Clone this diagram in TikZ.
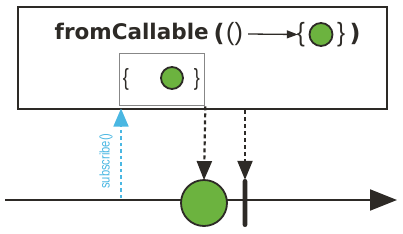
\documentclass[tikz,border=0pt]{standalone}
\usepackage{fontspec}
\usepackage{graphicx}
\setmainfont{DejaVu Sans}
\newfontfamily\labelfont{Liberation Sans}
\usetikzlibrary{arrows.meta}
\definecolor{dark}{RGB}{45,42,38}
\definecolor{mgreen}{RGB}{108,179,63}
\definecolor{mcyan}{RGB}{74,183,226}
\definecolor{boxgray}{RGB}{135,135,135}
\tikzset{
  titlebold/.style={inner sep=0pt, text=dark, font=\fontsize{21.5}{24}\selectfont\bfseries},
  parenbold/.style={inner sep=0pt, text=dark, font=\fontsize{24}{28}\selectfont\bfseries},
  parenreg/.style={inner sep=0pt, text=dark, font=\labelfont\fontsize{25}{28}\selectfont},
  bracebig/.style={inner sep=0pt, text=dark, font=\labelfont\fontsize{24}{28}\selectfont},
  bracereg/.style={inner sep=0pt, text=dark, font=\labelfont\fontsize{18}{21}\selectfont},
  ball/.style={circle, draw=dark, fill=mgreen, line width=1.8pt, inner sep=0pt},
  dasharrow/.style={draw=dark, line width=2.2pt, dash pattern=on 4pt off 3pt, -{Triangle[length=19pt,width=15pt]}},
  subarrow/.style={draw=mcyan, line width=1.6pt, dash pattern=on 3.5pt off 3pt, -{Triangle[length=18pt,width=15pt]}},
}
\begin{document}
\begin{tikzpicture}[x=1pt,y=-1pt]
\useasboundingbox (0,0) rectangle (403,233);
% main box
\node[draw=dark, line width=2pt, minimum width=369pt, minimum height=102pt, anchor=north west, inner sep=0pt] (box) at (17,6) {};
% title
\node[titlebold, anchor=base west] (t1) at (54.5,39.5) {fromCallable};
\node[parenbold] (t2) at (219,34) {(};
\node[parenreg] (t3) at (234.5,34) {()};
\node[bracebig] (t4) at (301,34.5) {\scalebox{1}[1.1]{\symbol{123}}};
\node[ball, minimum size=23pt] (t5) at (321,34.5) {};
\node[bracebig] (t6) at (341,34.5) {\scalebox{1}[1.1]{\symbol{125}}};
\node[parenbold] (t7) at (355,34) {)};
\draw[draw=dark, line width=1.3pt, -{Triangle[length=11pt,width=8pt]}] ([xshift=5pt]t3.east) -- ([xshift=1pt]t4.west);
% inner box
\node[draw=boxgray, line width=1.3pt, minimum width=85pt, minimum height=52pt, anchor=north west, inner sep=0pt] (inner) at (119,53) {};
\node[bracereg] (i1) at (126,79.5) {\scalebox{1}[1.3]{\symbol{123}}};
\node[ball, minimum size=22pt] (i2) at (172,78) {};
\node[bracereg] (i3) at (197,79.5) {\scalebox{1}[1.3]{\symbol{125}}};
% timeline
\coordinate (l0) at (5,200);
\coordinate (l1) at (397,200);
\draw[draw=dark, line width=2pt, -{Triangle[length=27pt,width=21pt]}] (l0) -- (l1);
% emitted item and completion
\node[ball, minimum size=46pt] (b) at (204,203) {};
\node[fill=dark, rounded corners=2.2pt, minimum width=4.6pt, minimum height=48pt, inner sep=0pt] (bar) at (245,203) {};
% dashed arrows
\draw[dasharrow] (inner.south east) -- ([yshift=-1pt]b.north);
\draw[dasharrow] (box.south -| bar.north) -- ([yshift=-1pt]bar.north);
% subscribe
\coordinate (s0) at (121,198);
\draw[subarrow] (s0) -- ([yshift=1.5pt]box.south -| s0);
\node[rotate=90, text=mcyan, inner sep=0pt, font=\labelfont\fontsize{14}{16}\selectfont] (sub) at (106,161) {\scalebox{0.8}[1]{subscribe()}};
\end{tikzpicture}
\end{document}
